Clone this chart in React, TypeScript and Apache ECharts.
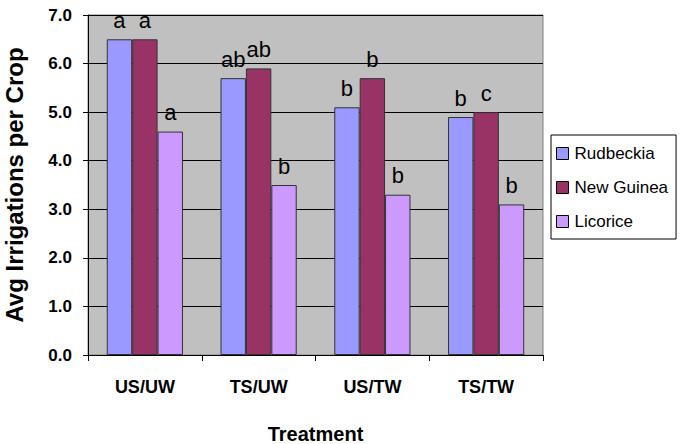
import React, { useEffect, useRef } from "react";
import * as echarts from "echarts";

const categories = ["US/UW", "TS/UW", "US/TW", "TS/TW"];
const seriesNames = ["Rudbeckia", "New Guinea", "Licorice"];
const rudbeckia = [6.5, 5.7, 5.1, 4.9];
const newGuinea = [6.5, 5.9, 5.7, 5.0];
const licorice = [4.6, 3.5, 3.3, 3.1];
const rudbeckiaLetters = ["a", "ab", "b", "b"];
const newGuineaLetters = ["a", "ab", "b", "c"];
const licoriceLetters = ["a", "b", "b", "b"];
const colors = ["#9999FF", "#993366", "#CC99FF"];

const FONT = "'Liberation Sans', Arial, sans-serif";

export default function App() {
  const ref = useRef<HTMLDivElement>(null);
  useEffect(() => {
    if (!ref.current) return;
    const chart = echarts.init(ref.current, null, { renderer: "svg" });
    const values = [rudbeckia, newGuinea, licorice];
    const letters = [rudbeckiaLetters, newGuineaLetters, licoriceLetters];
    chart.setOption({
      animation: false,
      backgroundColor: "#ffffff",
      grid: {
        left: 88,
        right: 142,
        top: 15,
        bottom: 89,
        outerBoundsMode: "none",
        containLabel: false,
        show: true,
        backgroundColor: "#C0C0C0",
        borderColor: "#808080",
        borderWidth: 1,
      },
      legend: {
        orient: "vertical",
        left: 551,
        top: 135,
        width: 124,
        padding: [10, 8, 9, 5],
        itemGap: 17,
        itemWidth: 12,
        itemHeight: 12,
        borderColor: "#000000",
        borderWidth: 1,
        backgroundColor: "#ffffff",
        icon: "rect",
        itemStyle: { borderColor: "#000", borderWidth: 1 },
        textStyle: { fontFamily: FONT, fontSize: 17, color: "#000", padding: [0, 0, 0, 1] },
        data: seriesNames,
      },
      xAxis: {
        type: "category",
        data: categories,
        name: "Treatment",
        nameLocation: "middle",
        nameGap: 69,
        nameTextStyle: { fontFamily: FONT, fontSize: 20, fontWeight: "bold", color: "#000" },
        axisLine: { lineStyle: { color: "#000", width: 1 } },
        axisTick: { show: true, length: 6, lineStyle: { color: "#000" } },
        axisLabel: { fontFamily: FONT, fontSize: 18, fontWeight: "bold", color: "#000", margin: 23 },
      },
      yAxis: {
        type: "value",
        min: 0,
        max: 7,
        interval: 1,
        name: "Avg Irrigations per Crop",
        nameLocation: "middle",
        nameGap: 62,
        nameTextStyle: { fontFamily: FONT, fontSize: 24, fontWeight: "bold", color: "#000" },
        axisLine: { show: true, lineStyle: { color: "#000", width: 1 } },
        axisTick: { show: true, length: 5, lineStyle: { color: "#000" } },
        axisLabel: {
          fontFamily: FONT,
          fontSize: 17,
          fontWeight: "bold",
          color: "#000",
          margin: 16,
          formatter: (v: number) => v.toFixed(1),
        },
        splitLine: { show: true, lineStyle: { color: "#000", width: 1 } },
      },
      series: seriesNames.map((name, i) => ({
        name,
        type: "bar",
        data: values[i],
        barGap: "0%",
        barCategoryGap: "33%",
        itemStyle: { color: colors[i], borderColor: "#333333", borderWidth: 1 },
        label: {
          show: true,
          position: "top",
          distance: 8,
          fontFamily: FONT,
          fontSize: 22,
          color: "#000",
          formatter: (p: any) => letters[i][p.dataIndex],
        },
      })),
    });
    return () => chart.dispose();
  }, []);
  return (
    <div
      ref={ref}
      style={{ position: "fixed", left: 0, top: 0, width: 685, height: 444 }}
    />
  );
}
